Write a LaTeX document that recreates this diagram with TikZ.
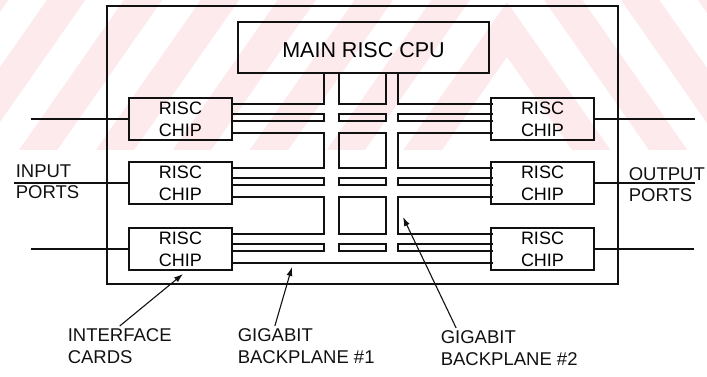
\documentclass[tikz,border=0pt]{standalone}
\usepackage{fontspec}
\setmainfont{Liberation Sans}
\usetikzlibrary{arrows.meta}
\definecolor{ink}{HTML}{111111}
\definecolor{wmpink}{HTML}{fdeaed}

\begin{document}
\begin{tikzpicture}[x=1pt,y=-1pt,line width=1.6pt,
  chip/.style={draw=ink,minimum width=103pt,minimum height=42pt,inner sep=0pt,align=center,font=\fontsize{18}{22}\selectfont},
  cpubox/.style={draw=ink,minimum width=251pt,minimum height=51pt,inner sep=0pt,text height=21pt,font=\fontsize{21.5}{24}\selectfont},
  lbl/.style={ink,inner sep=2pt,align=left,font=\fontsize{18.5}{22}\selectfont},
  pointer/.style={draw=ink,line width=1.1pt,-{Latex[length=9pt,width=6pt]}},
  wall/.style={draw=ink}]
  \useasboundingbox (0,0) rectangle (707,377);

  % faint chevron watermark behind the top of the figure
  \begin{scope}
    \clip (0,0) rectangle (707,150);
    \foreach \k in {0,...,8} {
      \fill[wmpink] (-93,860-110*\k) -- (507,2-110*\k) -- (1107,860-110*\k)
        -- (1107,915-110*\k) -- (507,57-110*\k) -- (-93,915-110*\k) -- cycle;
    }
  \end{scope}

  % card cage
  \draw[ink] (107,6) rectangle (618,284);

  % main processor and the six interface chips
  \node[cpubox] (cpu) at (363.5,47.5) {MAIN RISC CPU};
  \node[chip] (chipL1) at (180.5,119) {RISC\\CHIP};
  \node[chip] (chipL2) at (180.5,183) {RISC\\CHIP};
  \node[chip] (chipL3) at (180.5,249) {RISC\\CHIP};
  \node[chip] (chipR1) at (542.5,119) {RISC\\CHIP};
  \node[chip] (chipR2) at (542.5,183) {RISC\\CHIP};
  \node[chip] (chipR3) at (542.5,249) {RISC\\CHIP};

  % backplane walls: two lanes per chip row, split by a thin strip
  \foreach \t in {98,162,228} {
    \draw[wall] (232,\t+16) -- (324,\t+16) -- (324,\t+23) -- (232,\t+23);
    \draw[wall] (339,\t+16) rectangle (386,\t+23);
    \draw[wall] (493,\t+16) -- (398,\t+16) -- (398,\t+23) -- (493,\t+23);
  }

  % blocks between the chip rows
  \foreach \d/\a in {133/168,197/234} {
    \draw[wall] (232,\d) -- (324,\d) -- (324,\a) -- (232,\a);
    \draw[wall] (339,\d) rectangle (386,\a);
    \draw[wall] (493,\d) -- (398,\d) -- (398,\a) -- (493,\a);
  }

  % top of the two vertical buses, and the bottom wall
  \draw[wall] (232,104) -- (324,104) -- (324,73);
  \draw[wall] (339,73) -- (339,104) -- (386,104) -- (386,73);
  \draw[wall] (398,73) -- (398,104) -- (493,104);
  \draw[wall] (232,263) -- (493,263);

  % port lines
  \coordinate (portin1) at (31,119);
  \coordinate (portin2) at (14,183);
  \coordinate (portin3) at (31,249);
  \coordinate (portout1) at (695,119);
  \coordinate (portout2) at (695,183);
  \coordinate (portout3) at (694,249);
  \draw[ink] (chipL1.west) -- (portin1);
  \draw[ink] (chipL2.west) -- (portin2);
  \draw[ink] (chipL3.west) -- (portin3);
  \draw[ink] (chipR1.east) -- (portout1);
  \draw[ink] (chipR2.east) -- (portout2);
  \draw[ink] (chipR3.east) -- (portout3);

  % labels
  \node[lbl,anchor=west,font=\fontsize{18.5}{21}\selectfont] (inports) at (13,182) {INPUT\\PORTS};
  \node[lbl,anchor=west,font=\fontsize{18.5}{21}\selectfont] (outports) at (626,185) {OUTPUT\\PORTS};
  \node[lbl,anchor=north west] (cardslbl) at (65,326) {INTERFACE\\CARDS};
  \node[lbl,anchor=north west] (bponelbl) at (235,326) {GIGABIT\\BACKPLANE \#1};
  \node[lbl,anchor=north west] (bptwolbl) at (438,328) {GIGABIT\\BACKPLANE \#2};

  % pointers
  \coordinate (cardstip) at (183,274);
  \coordinate (bponetip) at (292,267);
  \coordinate (bptwotip) at (403,217);
  \draw[pointer] (cardslbl.north) -- (cardstip);
  \draw[pointer] (bponelbl.147) -- (bponetip);
  \draw[pointer] (bptwolbl.159) -- (bptwotip);

\end{tikzpicture}
\end{document}
